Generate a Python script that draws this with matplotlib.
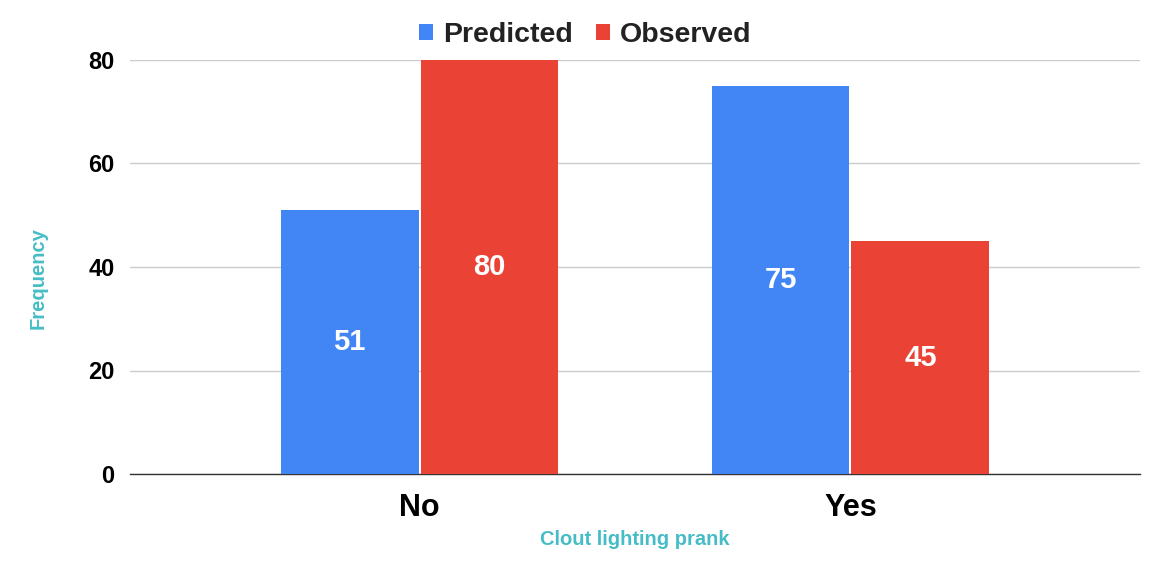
import matplotlib
matplotlib.use("Agg")
import matplotlib.pyplot as plt
import numpy as np

categories = ["No", "Yes"]
predicted = [51, 75]
observed = [80, 45]
series_names = ["Predicted", "Observed"]
yticks = [0, 20, 40, 60, 80]

blue = "#4285F4"
red = "#EA4335"
teal = "#46BDC6"

plt.rcParams['font.family'] = ['Liberation Sans', 'DejaVu Sans']

fig = plt.figure(figsize=(11.69, 5.62), dpi=100)
ax = fig.add_axes([130/1169, 1-474/562, 1010/1169, 414/562])

x = np.arange(len(categories))
w = 0.32
gap = 0.0023
b1 = ax.bar(x - w/2 - gap, predicted, w, color=blue, label=series_names[0], zorder=3)
b2 = ax.bar(x + w/2 + gap, observed, w, color=red, label=series_names[1], zorder=3)

for bars, vals in ((b1, predicted), (b2, observed)):
    for r, v in zip(bars, vals):
        ax.text(r.get_x() + r.get_width()/2, v/2, str(v), ha='center', va='center',
                color='white', fontsize=21, fontweight='bold', zorder=4)

ax.set_xlim(-0.672, 1.672)
ax.set_ylim(0, 80)
ax.set_yticks(yticks)
ax.set_yticklabels([str(t) for t in yticks], fontsize=17, fontweight='bold')
ax.set_xticks(x)
ax.set_xticklabels(categories, fontsize=22, fontweight='bold')
ax.tick_params(axis='y', length=0, pad=11)
ax.tick_params(axis='x', length=0, pad=14)
ax.yaxis.grid(True, color='#cccccc', linewidth=1, zorder=0)
for s in ['top', 'right', 'left']:
    ax.spines[s].set_visible(False)
ax.spines['bottom'].set_color('#333333')
ax.spines['bottom'].set_linewidth(1)

ax.set_xlabel("Clout lighting prank", color=teal, fontsize=14.5, fontweight='bold', labelpad=5)
ax.set_ylabel("Frequency", color=teal, fontsize=14.5, fontweight='bold', labelpad=0)
ax.yaxis.set_label_coords((48 - 130) / 1010, (474 - 278) / 414)

leg = fig.legend(handles=[b1, b2], labels=series_names, loc='center', bbox_to_anchor=(585/1169, 1-35/562),
                 ncol=2, frameon=False, handlelength=0.5, handleheight=0.5, handletextpad=0.35,
                 columnspacing=0.8, prop={'family': 'Liberation Sans', 'weight': 'bold', 'size': 20.5})
for t in leg.get_texts():
    t.set_color('#222222')

fig.savefig("out.png", dpi=100)
